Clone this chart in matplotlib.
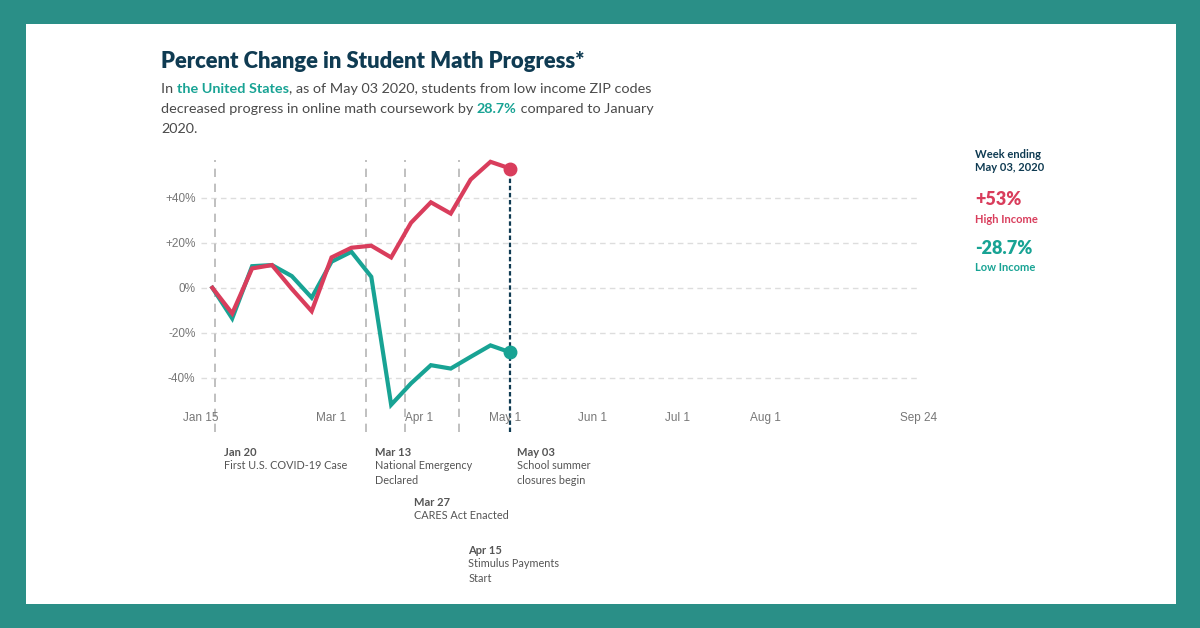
import matplotlib
matplotlib.use("Agg")
from matplotlib import pyplot as plt
from matplotlib.patches import Rectangle
from datetime import date

# weekly data, week ending Sundays
weeks = [date(2020, 1, 19), date(2020, 1, 26), date(2020, 2, 2), date(2020, 2, 9),
         date(2020, 2, 16), date(2020, 2, 23), date(2020, 3, 1), date(2020, 3, 8),
         date(2020, 3, 15), date(2020, 3, 22), date(2020, 3, 29), date(2020, 4, 5),
         date(2020, 4, 12), date(2020, 4, 19), date(2020, 4, 26), date(2020, 5, 3)]
high_income = [0, -11.4, 8.6, 10.1, -0.5, -10.4, 13.5, 17.8, 18.7, 13.5, 28.9, 38.0, 33.0, 48.1, 56.0, 53.0]
low_income = [0, -13.6, 9.6, 10.1, 5.2, -4.4, 11.6, 16.0, 4.9, -52.0, -42.5, -34.4, -35.9, -30.7, -25.6, -28.7]

y_ticks = [40, 20, 0, -20, -40]
y_tick_labels = ["+40%", "+20%", "0%", "-20%", "-40%"]
x_ticks = [date(2020, 1, 15), date(2020, 3, 1), date(2020, 4, 1), date(2020, 5, 1),
           date(2020, 6, 1), date(2020, 7, 1), date(2020, 8, 1), date(2020, 9, 24)]
x_tick_labels = ["Jan 15", "Mar 1", "Apr 1", "May 1", "Jun 1", "Jul 1", "Aug 1", "Sep 24"]

events = [date(2020, 1, 20), date(2020, 3, 13), date(2020, 3, 27), date(2020, 4, 15)]
event_dates = ["Jan 20", "Mar 13", "Mar 27", "Apr 15"]
event_texts = ["First U.S. COVID-19 Case", "National Emergency\nDeclared",
               "CARES Act Enacted", "Stimulus Payments\nStart"]
event_rows = [452, 452, 502, 550]  # pixel y of the bold date

RED = "#d93d5c"
TEAL = "#18a394"
NAVY = "#0f3b52"
FRAME = "#2a8f87"
GRAY = "#555555"
FONT = ["Lato", "DejaVu Sans"]
TICKFONT = ["Liberation Sans", "DejaVu Sans"]

W, H = 1200, 628
fig = plt.figure(figsize=(12, 6.28), dpi=100)
fig.patch.set_facecolor(FRAME)
fig.add_artist(Rectangle((26 / W, 1 - 604 / H), 1150 / W, 580 / H, transform=fig.transFigure,
                         facecolor="white", edgecolor="none", zorder=0))


def fx(px):
    return px / W


def fy(py):
    return 1 - py / H


ax = fig.add_axes([fx(201), fy(432), 718 / W, 272 / H])
ax.set_facecolor("none")
for s in ax.spines.values():
    s.set_visible(False)

ax.set_xlim(date(2020, 1, 15), date(2020, 9, 24))
ax.set_ylim(-64.1, 56.8)

for v in y_ticks:
    ax.axhline(v, color="#dddddd", lw=1, dashes=(4, 3), zorder=1)
ax.set_yticks(y_ticks)
ax.set_yticklabels(y_tick_labels, fontfamily=TICKFONT, fontsize=8.5, color="#777777")
ax.tick_params(axis="y", length=0, pad=4)
ax.set_xticks([])

# x labels inside the axis box
for d, lab in zip(x_ticks, x_tick_labels):
    ax.annotate(lab, xy=(d, H - 418), xycoords=("data", "figure pixels"),
                ha="center", va="center", fontsize=8.5, color="#777777", family=TICKFONT)

# event lines and labels
for d, dl, txt, row in zip(events, event_dates, event_texts, event_rows):
    ax.axvline(d, color="#b5b5b5", lw=1.2, dashes=(5, 4), zorder=1)
    ax.annotate(dl, xy=(d, H - row), xycoords=("data", "figure pixels"),
                xytext=(6.5, 0), textcoords="offset points", ha="left", va="center",
                fontsize=8, fontweight="bold", color=GRAY, family=FONT, annotation_clip=False)
    ax.annotate(txt, xy=(d, H - row - 8), xycoords=("data", "figure pixels"),
                xytext=(6.5, 0), textcoords="offset points", ha="left", va="top",
                fontsize=7.8, color=GRAY, family=FONT, linespacing=1.4, annotation_clip=False)

# last week marker
last = weeks[-1]
ax.plot([last, last], [-64.1, high_income[-1]], color=NAVY, lw=1.6, dashes=(2, 1.2), zorder=2)
ax.annotate("May 03", xy=(last, H - 452), xycoords=("data", "figure pixels"),
            xytext=(5, 0), textcoords="offset points", ha="left", va="center",
            fontsize=8, fontweight="bold", color=GRAY, family=FONT, annotation_clip=False)
ax.annotate("School summer\nclosures begin", xy=(last, H - 460), xycoords=("data", "figure pixels"),
            xytext=(5, 0), textcoords="offset points", ha="left", va="top",
            fontsize=7.8, color=GRAY, family=FONT, linespacing=1.4, annotation_clip=False)

ax.plot(weeks, low_income, color=TEAL, lw=3, solid_joinstyle="miter", zorder=3, clip_on=False)
ax.plot(weeks, high_income, color=RED, lw=3, solid_joinstyle="miter", zorder=4, clip_on=False)
ax.plot([last], [high_income[-1]], "o", color=RED, ms=9, zorder=5, clip_on=False)
ax.plot([last], [low_income[-1]], "o", color=TEAL, ms=9, zorder=5, clip_on=False)

# title
fig.text(fx(161), fy(62), "Percent Change in Student Math Progress*", fontsize=15.8, fontweight="heavy",
         color=NAVY, family=FONT, va="center", ha="left")

renderer = fig.canvas.get_renderer()


def rich(x, y, parts):
    for s, bold, col in parts:
        t = fig.text(fx(x), fy(y), s, fontsize=10.4, fontweight="bold" if bold else "normal",
                     color=col, family=FONT, va="center", ha="left")
        x += t.get_window_extent(renderer).width


SUB = "#4a4a4a"
rich(161, 89, [("In ", False, SUB), ("the United States", True, TEAL),
               (", as of May 03 2020, students from low income ZIP codes", False, SUB)])
rich(161, 109, [("decreased progress in online math coursework by ", False, SUB), ("28.7%", True, TEAL),
                (" compared to January", False, SUB)])
rich(161, 129, [("2020.", False, SUB)])

# right side summary
fig.text(fx(975), fy(154), "Week ending", fontsize=8, fontweight="bold", color=NAVY, family=FONT, va="center")
fig.text(fx(975), fy(168), "May 03, 2020", fontsize=8, fontweight="bold", color=NAVY, family=FONT, va="center")
fig.text(fx(975), fy(200), "+53%", fontsize=13, fontweight="heavy", color=RED, family=FONT, va="center")
fig.text(fx(975), fy(220), "High Income", fontsize=8, fontweight="bold", color=RED, family=FONT, va="center")
fig.text(fx(975), fy(248), "-28.7%", fontsize=13, fontweight="heavy", color=TEAL, family=FONT, va="center")
fig.text(fx(975), fy(267), "Low Income", fontsize=8, fontweight="bold", color=TEAL, family=FONT, va="center")

fig.savefig("out.png", dpi=100, facecolor=FRAME)
